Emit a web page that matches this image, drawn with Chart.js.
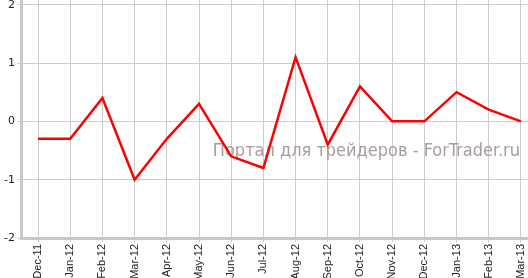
<!DOCTYPE html>
<html>
<head>
<meta charset="utf-8">
<script src="https://cdn.jsdelivr.net/npm/chart.js@4"></script>
<style>
  html, body { margin: 0; padding: 0; background: #fff; overflow: hidden; }
  #wrap { width: 528px; height: 278px; }
</style>
</head>
<body>
<div id="wrap"><canvas id="chart" width="528" height="278"></canvas></div>
<script>
// Month labels along the bottom
const months = ['Dec-11', 'Jan-12', 'Feb-12', 'Mar-12', 'Apr-12', 'May-12', 'Jun-12', 'Jul-12',
  'Aug-12', 'Sep-12', 'Oct-12', 'Nov-12', 'Dec-12', 'Jan-13', 'Feb-13', 'Mar-13'];

// Values
const values = [-0.3, -0.3, 0.4, -1.0, -0.3, 0.3, -0.6, -0.8, 1.1, -0.4, 0.6, 0, 0, 0.5, 0.2, 0];

// Y tick values
const yTicks = [-2, -1, 0, 1, 2];

const watermark = 'Портал для трейдеров - ForTrader.ru';

// Watermark sits behind the line
const watermarkPlugin = {
  id: 'watermark',
  beforeDatasetsDraw(chart) {
    const ctx = chart.ctx;
    ctx.save();
    ctx.font = '18px "DejaVu Sans Condensed", "DejaVu Sans"';
    ctx.fillStyle = '#a89c9c';
    ctx.textAlign = 'right';
    ctx.textBaseline = 'alphabetic';
    ctx.fillText(watermark, 520, 156);
    ctx.restore();
  }
};

const ctx = document.getElementById('chart').getContext('2d');
new Chart(ctx, {
  type: 'line',
  data: {
    datasets: [{
      data: values.map((v, i) => ({ x: i, y: v })),
      borderColor: '#ff0000',
      borderWidth: 2.5,
      pointRadius: 0,
      tension: 0,
      fill: false
    }]
  },
  options: {
    responsive: false,
    animation: false,
    layout: { padding: 0 },
    plugins: { legend: { display: false }, tooltip: { enabled: false } },
    scales: {
      x: {
        type: 'linear',
        min: -0.53,
        max: 15.22,
        afterBuildTicks: scale => { scale.ticks = months.map((m, i) => ({ value: i })); },
        afterFit: scale => {
          scale.height = 40;
          scale.paddingLeft = 0;
          scale.paddingRight = 0;
        },
        ticks: {
          callback: v => months[v],
          autoSkip: false,
          minRotation: 90,
          maxRotation: 90,
          padding: 2,
          color: '#222',
          font: { family: '"Liberation Sans"', size: 11 }
        },
        grid: { color: '#cccccc', lineWidth: 1, tickLength: 4 },
        border: { color: '#c8c8c8', width: 3 }
      },
      y: {
        min: -2,
        max: 2.08,
        afterBuildTicks: scale => { scale.ticks = yTicks.map(v => ({ value: v })); },
        afterFit: scale => {
          scale.width = 21;
          scale.paddingTop = 0;
          scale.paddingBottom = 0;
        },
        ticks: {
          padding: 2,
          color: '#222',
          font: { family: '"DejaVu Sans"', size: 11 }
        },
        grid: { color: '#cccccc', lineWidth: 1, tickLength: 4 },
        border: { color: '#c8c8c8', width: 3 }
      }
    }
  },
  plugins: [watermarkPlugin]
});
</script>
</body>
</html>
